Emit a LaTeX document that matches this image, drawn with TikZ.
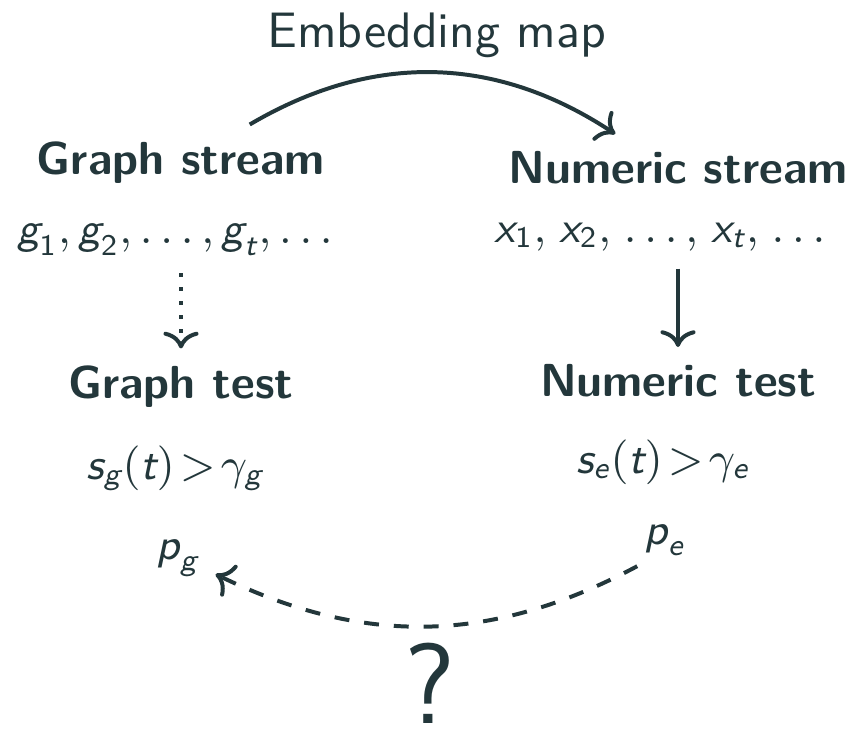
\documentclass[tikz,border=0pt]{standalone}
\usepackage{tikz}
\usetikzlibrary{arrows.meta,positioning,calc}
\usepackage{xcolor}
\usepackage{amsmath}
\renewcommand{\familydefault}{\sfdefault}
\definecolor{ink}{HTML}{23373B}
\newcommand{\mv}[1]{\text{\sffamily\itshape #1}}
\newcommand{\gtr}{\mskip2mu{>}\mskip2mu}
\newcommand{\cm}{,\mskip2mu}

\begin{document}
\begin{tikzpicture}[
  head/.style={font=\fontsize{9.3}{11}\selectfont\bfseries, text=ink},
  formula/.style={font=\fontsize{8.8}{11}\selectfont, text=ink},
  link/.style={draw=ink, thick, ->}
]
  \useasboundingbox (0,0) rectangle (6.033,5.242);

  % Graph side
  \node[head] (gstream) at (1.277,4.092) {Graph stream};
  \node[formula] (gseq) at (1.235,3.549) {$\mv{g}_{\mathsf{1}}, \mv{g}_{\mathsf{2}}, \ldots, \mv{g}_{\mv{t}}, \ldots$};
  \node[head] (gtest) at (1.277,2.512) {Graph test};
  \node[formula] (sg) at (1.235,1.940) {$\mv{s}_{\mv{g}}\mathsf{(}\mv{t}\mathsf{)} \gtr \gamma_{\mv{g}}$};
  \node[formula] (pg) at (1.256,1.305) {$\mv{p}_{\mv{g}}$};

  % Numeric side
  \node[head] (nstream) at (4.784,4.057) {Numeric stream};
  \node[formula] (nseq) at (4.657,3.570) {$\mv{x}_{\mathsf{1}}\cm \mv{x}_{\mathsf{2}}\cm \ldots\cm \mv{x}_{\mv{t}}\cm \ldots$};
  \node[head] (ntest) at (4.784,2.554) {Numeric test};
  \node[formula] (se) at (4.678,1.983) {$\mv{s}_{\mv{e}}\mathsf{(}\mv{t}\mathsf{)} \gtr \gamma_{\mv{e}}$};
  \node[formula] (pe) at (4.692,1.432) {$\mv{p}_{\mv{e}}$};

  % Map and question
  \node[font=\fontsize{10}{12}\selectfont, text=ink] (embed) at (3.083,4.995) {Embedding map};
  \node[font=\fontsize{23}{28}\selectfont, text=ink, inner sep=0pt] (quest) at (3.034,0.42) {?};

  % Connectors
  \draw[link] ([xshift=13.8pt]gstream.north) to[bend left=32] ([xshift=-12.6pt]nstream.north);
  \draw[link, dotted] (gseq.south -| gtest.north) -- (gtest.north);
  \draw[link] (nseq.south -| ntest.north) -- (ntest.north);
  \draw[link, dashed] ([shift={(2pt,1.4pt)}]pe.south west) to[bend left=27] ([shift={(-0.2pt,4pt)}]pg.south east);
\end{tikzpicture}
\end{document}
